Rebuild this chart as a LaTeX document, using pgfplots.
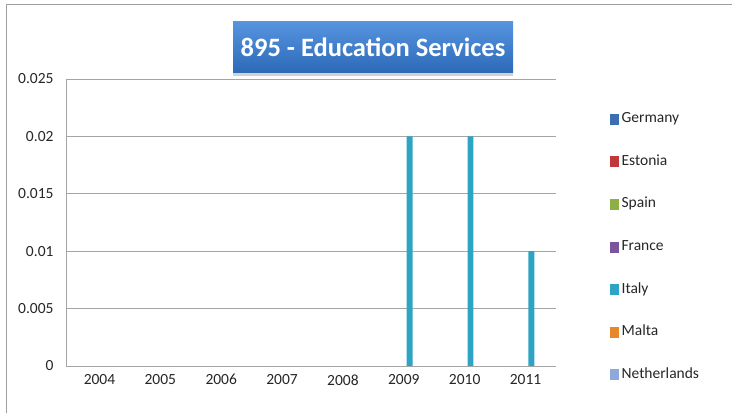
\documentclass[border=0pt]{standalone}
\usepackage{pgfplots}
\usepackage{pgfplotstable}
\pgfplotsset{compat=1.18}
\usepackage{fontspec}
\setmainfont{Carlito}
\usetikzlibrary{shadows}
\definecolor{cGer}{RGB}{60,110,180}
\definecolor{cEst}{RGB}{192,56,58}
\definecolor{cSpa}{RGB}{141,176,70}
\definecolor{cFra}{RGB}{122,85,155}
\definecolor{cIta}{RGB}{46,164,197}
\definecolor{cMal}{RGB}{232,134,43}
\definecolor{cNet}{RGB}{142,169,216}
\definecolor{gridc}{RGB}{165,165,165}
\pgfplotstableread{
x Germany Estonia Spain France Italy Malta Netherlands
0 0 0 0 0 0 0 0
1 0 0 0 0 0 0 0
2 0 0 0 0 0 0 0
3 0 0 0 0 0 0 0
4 0 0 0 0 0 0 0
5 0 0 0 0 0.02 0 0
6 0 0 0 0 0.02 0 0
7 0 0 0 0 0.01 0 0
}\data
\begin{document}
\begin{tikzpicture}
\useasboundingbox (0,0) rectangle (732bp,413bp);
\draw[gray!75, line width=1.2bp] (6.5bp,0) -- (6.5bp,408.5bp) -- (732bp,408.5bp);
\begin{axis}[
  at={(66bp,47bp)}, anchor=south west,
  scale only axis, width=490bp, height=287bp,
  ybar=0pt, bar width=5.8bp,
  legend image code/.code={\fill[#1] (0bp,-5.5bp) rectangle (8.5bp,5.5bp);},
  xmin=-0.55, xmax=7.5, ymin=0, ymax=0.025,
  xtick={0,1,2,3,4,5,6,7},
  xticklabels={2004,2005,2006,2007,2008,2009,2010,2011},
  ytick={0,0.005,0.01,0.015,0.02,0.025},
  yticklabels={0,0.005,0.01,0.015,0.02,0.025},
  scaled y ticks=false,
  ymajorgrids, grid style={draw=gridc, line width=0.8bp},
  axis x line*=bottom, axis y line*=left,
  axis line style={draw=gridc, line width=0.8bp},
  major tick length=0pt,
  tick label style={font=\fontsize{15.5bp}{18bp}\selectfont, text=black!85},
  xticklabel style={yshift=-5bp},
  yticklabel style={xshift=-9bp},
  /pgf/number format/assume math mode=true,
  legend style={at={(axis description cs:1.110,0.883)}, anchor=north west,
    draw=none, fill=none, row sep=29.6bp, column sep=3bp, inner sep=0pt,
    nodes={inner sep=0pt, text height=10bp, text depth=3bp,
      font=\fontsize{15.5bp}{18bp}\selectfont, text=black!85},
    cells={anchor=west}},
  legend cell align=left,
]
\addplot[fill=cGer, draw=none] table[x=x,y=Germany]{\data};
\addlegendentry{Germany}
\addplot[fill=cEst, draw=none] table[x=x,y=Estonia]{\data};
\addlegendentry{Estonia}
\addplot[fill=cSpa, draw=none] table[x=x,y=Spain]{\data};
\addlegendentry{Spain}
\addplot[fill=cFra, draw=none] table[x=x,y=France]{\data};
\addlegendentry{France}
\addplot[fill=cIta, draw=none] table[x=x,y=Italy]{\data};
\addlegendentry{Italy}
\addplot[fill=cMal, draw=none] table[x=x,y=Malta]{\data};
\addlegendentry{Malta}
\addplot[fill=cNet, draw=none] table[x=x,y=Netherlands]{\data};
\addlegendentry{Netherlands}
\end{axis}
\node[minimum width=280bp, minimum height=51bp, inner sep=0pt,
  top color={rgb,255:red,86;green,148;blue,224},
  bottom color={rgb,255:red,44;green,106;blue,184},
  drop shadow={shadow xshift=0bp, shadow yshift=-3bp, opacity=0.35},
  text=white, font=\bfseries\fontsize{26.5bp}{30bp}\selectfont]
  at (373bp,365.5bp) {895 - Education Services};
\end{tikzpicture}
\end{document}
